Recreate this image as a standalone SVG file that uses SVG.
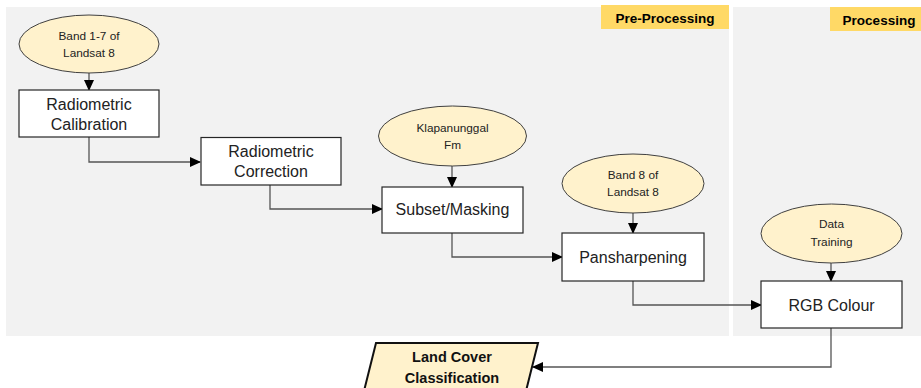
<svg xmlns="http://www.w3.org/2000/svg" width="921" height="388" viewBox="0 0 921 388">
<style>
.panel{fill:#f2f2f2}
.tag{fill:#ffd966}
.tagt{font-family:"Liberation Sans",Arial,sans-serif;font-weight:bold;font-size:13.5px;fill:#000;text-anchor:middle}
.ell{fill:#fff2cc;stroke:#404040;stroke-width:1}
.et{font-family:"Liberation Sans",Arial,sans-serif;font-size:11.8px;fill:#222;text-anchor:middle}
.box{fill:#fff;stroke:#262626;stroke-width:1.2}
.bt{font-family:"Liberation Sans",Arial,sans-serif;font-size:16px;fill:#222;text-anchor:middle}
.out{fill:#fff2cc;stroke:#111;stroke-width:2}
.ot{font-family:"Liberation Sans",Arial,sans-serif;font-weight:bold;font-size:14.5px;fill:#111;text-anchor:middle}
.con{fill:none;stroke:#555;stroke-width:1.3;marker-end:url(#ah)}
</style>
<defs>
<marker id="ah" markerWidth="11" markerHeight="11" refX="10" refY="5.5" orient="auto" markerUnits="userSpaceOnUse">
<path d="M0,0.5 L11,5.5 L0,10.5 Z" fill="#000"/>
</marker>
</defs>
<rect width="921" height="388" fill="#fff"/>
<g id="panel-pre">
<rect class="panel" x="6" y="7" width="723" height="329"/>
<rect class="tag" x="601" y="5" width="128" height="24"/>
<text class="tagt" x="665" y="22.5">Pre-Processing</text>
</g>
<g id="panel-proc">
<rect class="panel" x="733" y="7" width="188" height="329"/>
<rect class="tag" x="830" y="7" width="91" height="24"/>
<text class="tagt" x="879" y="24.5">Processing</text>
</g>
<g id="connectors">
<path class="con" d="M89,73 V90"/>
<path class="con" d="M89,137 V162 H200"/>
<path class="con" d="M452,166 V187"/>
<path class="con" d="M270,185 V209 H382"/>
<path class="con" d="M633,213 V233"/>
<path class="con" d="M452,233 V257 H562"/>
<path class="con" d="M831,263 V281"/>
<path class="con" d="M633,281 V305 H761"/>
<path class="con" d="M831,328 V367 H533"/>
</g>
<g id="n-band17">
<ellipse class="ell" cx="89" cy="44" rx="70" ry="29"/>
<text class="et" x="89" y="40">Band 1-7 of</text>
<text class="et" x="89" y="57">Landsat 8</text>
</g>
<g id="n-calib">
<rect class="box" x="19" y="90" width="140" height="47"/>
<text class="bt" x="89" y="110">Radiometric</text>
<text class="bt" x="89" y="130">Calibration</text>
</g>
<g id="n-corr">
<rect class="box" x="201" y="137.5" width="140" height="47.5"/>
<text class="bt" x="271" y="157">Radiometric</text>
<text class="bt" x="271" y="177">Correction</text>
</g>
<g id="n-klap">
<ellipse class="ell" cx="452.5" cy="136" rx="74" ry="30"/>
<text class="et" x="452.5" y="132">Klapanunggal</text>
<text class="et" x="452.5" y="149">Fm</text>
</g>
<g id="n-subset">
<rect class="box" x="382" y="187" width="141" height="46"/>
<text class="bt" x="452.5" y="215">Subset/Masking</text>
</g>
<g id="n-band8">
<ellipse class="ell" cx="633" cy="183.5" rx="71" ry="29.5"/>
<text class="et" x="633" y="179">Band 8 of</text>
<text class="et" x="633" y="196">Landsat 8</text>
</g>
<g id="n-pan">
<rect class="box" x="562" y="233" width="142" height="48"/>
<text class="bt" x="633" y="263">Pansharpening</text>
</g>
<g id="n-data">
<ellipse class="ell" cx="831.5" cy="233.5" rx="70.5" ry="29.5"/>
<text class="et" x="831.5" y="228">Data</text>
<text class="et" x="831.5" y="246">Training</text>
</g>
<g id="n-rgb">
<rect class="box" x="761" y="281" width="141" height="47"/>
<text class="bt" x="831.5" y="311">RGB Colour</text>
</g>
<g id="n-land">
<polygon class="out" points="376,343 538,343 523,403 361,403"/>
<text class="ot" x="452" y="362">Land Cover</text>
<text class="ot" x="452" y="383">Classification</text>
</g>
</svg>
